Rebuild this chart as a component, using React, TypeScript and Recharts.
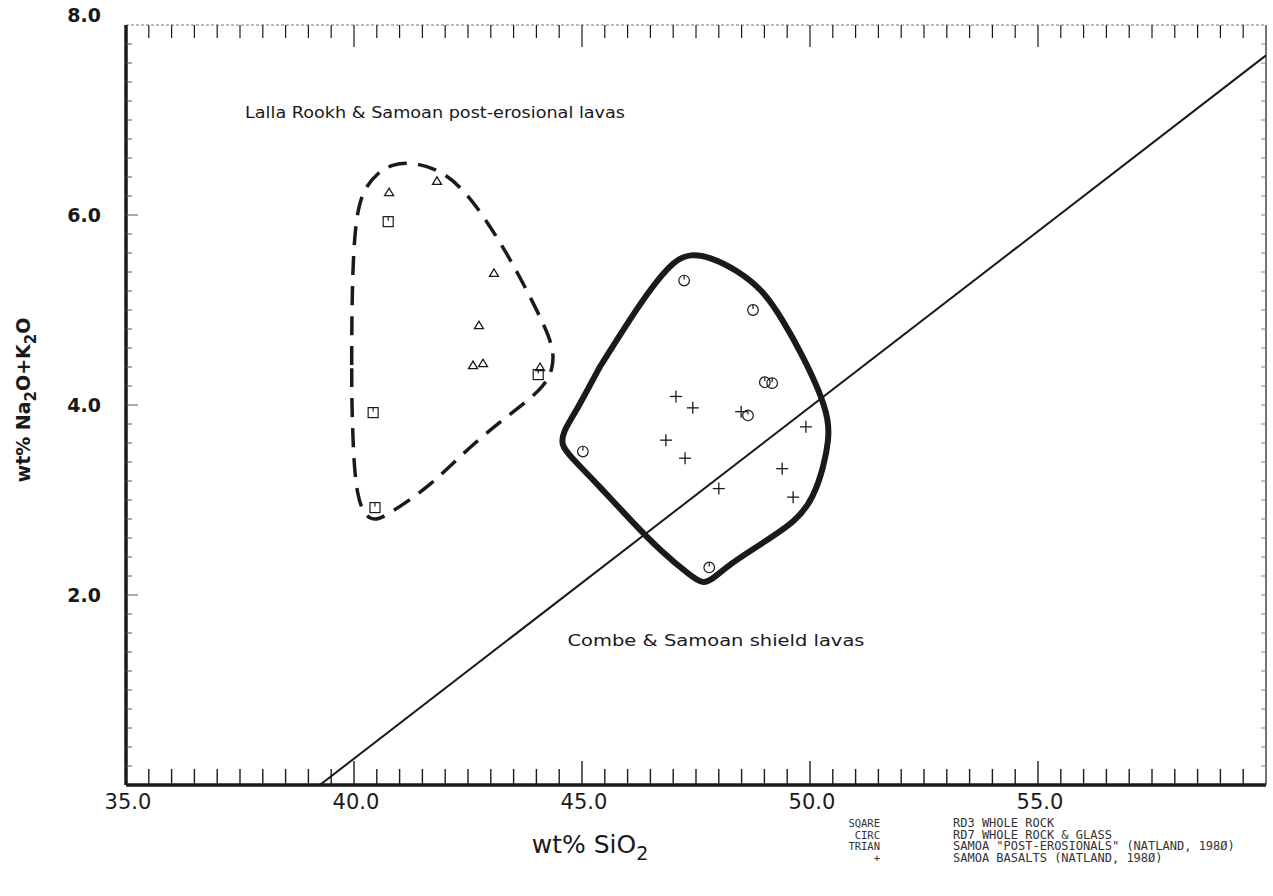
import React from 'react';
import { ComposedChart, Scatter, XAxis, YAxis } from 'recharts';

// RD3 whole rock (squares)
const rd3WholeRock = [
  { x: 40.75, y: 5.93 },
  { x: 40.42, y: 3.92 },
  { x: 40.46, y: 2.92 },
  { x: 44.04, y: 4.32 },
];
// RD7 whole rock & glass (circles)
const rd7WholeRockGlass = [
  { x: 47.24, y: 5.31 },
  { x: 48.75, y: 5.0 },
  { x: 49.01, y: 4.24 },
  { x: 49.17, y: 4.23 },
  { x: 48.64, y: 3.89 },
  { x: 45.02, y: 3.51 },
  { x: 47.79, y: 2.29 },
];
// Samoa "post-erosionals" (triangles)
const samoaPostErosional = [
  { x: 40.77, y: 6.24 },
  { x: 41.82, y: 6.36 },
  { x: 43.07, y: 5.39 },
  { x: 42.74, y: 4.84 },
  { x: 42.61, y: 4.42 },
  { x: 42.83, y: 4.44 },
  { x: 44.08, y: 4.4 },
];
// Samoa basalts (+)
const samoaBasalts = [
  { x: 47.06, y: 4.09 },
  { x: 47.43, y: 3.97 },
  { x: 48.49, y: 3.93 },
  { x: 46.84, y: 3.63 },
  { x: 47.26, y: 3.44 },
  { x: 48.0, y: 3.12 },
  { x: 49.91, y: 3.77 },
  { x: 49.39, y: 3.33 },
  { x: 49.63, y: 3.03 },
];
// envelope: Lalla Rookh & Samoan post-erosional lavas (dashed)
const postErosionalField = [
  { x: 39.95, y: 4.42 }, { x: 39.95, y: 4.79 }, { x: 39.97, y: 5.42 },
  { x: 40.03, y: 5.92 }, { x: 40.18, y: 6.26 }, { x: 40.53, y: 6.45 }, { x: 40.83, y: 6.53 },
  { x: 41.23, y: 6.56 }, { x: 41.89, y: 6.48 }, { x: 42.48, y: 6.24 }, { x: 43.14, y: 5.77 },
  { x: 43.64, y: 5.35 }, { x: 44.23, y: 4.79 }, { x: 44.38, y: 4.56 }, { x: 44.36, y: 4.39 },
  { x: 44.19, y: 4.2 }, { x: 43.64, y: 3.98 }, { x: 42.61, y: 3.6 }, { x: 41.67, y: 3.14 },
  { x: 40.72, y: 2.84 }, { x: 40.46, y: 2.78 }, { x: 40.22, y: 2.84 }, { x: 40.07, y: 3.05 },
  { x: 39.99, y: 3.42 }, { x: 39.95, y: 4.05 }, { x: 39.95, y: 4.42 },
];
// envelope: Combe & Samoan shield lavas (solid)
const shieldField = [
  { x: 45.39, y: 4.4 }, { x: 45.9, y: 4.79 }, { x: 46.49, y: 5.22 }, { x: 47.04, y: 5.53 },
  { x: 47.37, y: 5.59 }, { x: 47.81, y: 5.56 }, { x: 48.4, y: 5.42 }, { x: 48.97, y: 5.21 },
  { x: 49.41, y: 4.89 }, { x: 49.85, y: 4.51 }, { x: 50.22, y: 4.13 }, { x: 50.41, y: 3.84 },
  { x: 50.41, y: 3.63 }, { x: 50.3, y: 3.35 }, { x: 50.08, y: 3.03 }, { x: 49.71, y: 2.78 },
  { x: 48.97, y: 2.55 }, { x: 48.25, y: 2.33 }, { x: 47.85, y: 2.16 }, { x: 47.65, y: 2.12 },
  { x: 47.41, y: 2.19 }, { x: 46.71, y: 2.47 }, { x: 46.12, y: 2.76 }, { x: 45.39, y: 3.14 },
  { x: 44.74, y: 3.46 }, { x: 44.54, y: 3.58 }, { x: 44.59, y: 3.72 }, { x: 44.8, y: 3.88 },
  { x: 45.1, y: 4.14 }, { x: 45.39, y: 4.4 },
];
// alkalic / tholeiitic divide
const divideLine = [
  { x: 39.25, y: 0 },
  { x: 60, y: 7.68 },
];

const xLabelTicks = [35, 40, 45, 50, 55];
const yLabelTicks = [2, 4, 6, 8];
const xTicks = Array.from({ length: 51 }, (_, i) => 35 + i * 0.5);
const yTicks = Array.from({ length: 41 }, (_, i) => Math.round(i * 2) / 10);

const legendKeys = ['SQARE', 'CIRC', 'TRIAN', '+'];
const legendLabels = [
  'RD3 WHOLE ROCK',
  'RD7 WHOLE ROCK & GLASS',
  'SAMOA "POST-EROSIONALS" (NATLAND, 198\u00D8)',
  'SAMOA BASALTS (NATLAND, 198\u00D8)',
];

const INK = '#1a1a1a';
const isMajorX = (v: number) => Math.abs(v / 5 - Math.round(v / 5)) < 1e-6;
const isMajorY = (v: number) => Math.abs(v / 2 - Math.round(v / 2)) < 1e-6;

const BottomTick = (p: any) => {
  const v = p.payload.value;
  const major = isMajorX(v);
  return (
    <g>
      {v > 35 && v < 60 && (
        <line x1={p.x} x2={p.x} y1={p.y} y2={p.y - (major ? 24 : 16)} stroke={INK} strokeWidth={1.4} />
      )}
      {xLabelTicks.includes(v) && (
        <text x={p.x + 2} y={p.y + 24} textAnchor="middle" fontFamily="DejaVu Sans" fontSize={21} fill={INK}>
          {v.toFixed(1)}
        </text>
      )}
    </g>
  );
};
const TopTick = (p: any) => {
  const v = p.payload.value;
  const major = isMajorX(v);
  if (v <= 35 || v >= 60) return <g />;
  return <line x1={p.x} x2={p.x} y1={p.y} y2={p.y + (major ? 22 : 13)} stroke={INK} strokeWidth={1.2} />;
};
const LeftTick = (p: any) => {
  const v = p.payload.value;
  const major = isMajorY(v);
  return (
    <g>
      {v > 0 && v < 8 && (
        <line x1={p.x} x2={p.x + (major ? 12 : 6)} y1={p.y} y2={p.y} stroke="#555" strokeWidth={1} />
      )}
      {yLabelTicks.includes(v) && (
        <text x={p.x - 25} y={p.y + (v === 8 ? -3 : 7)} textAnchor="end" fontFamily="DejaVu Sans" fontWeight="bold" fontSize={19} fill={INK}>
          {v.toFixed(1)}
        </text>
      )}
    </g>
  );
};
const RightTick = (p: any) => {
  const v = p.payload.value;
  if (v <= 0 || v >= 8) return <g />;
  return <line x1={p.x} x2={p.x - 5} y1={p.y} y2={p.y} stroke="#888" strokeWidth={1} />;
};

const Square = (p: any) => (
  <g stroke={INK} strokeWidth={1.2} fill="none">
    <rect x={p.cx - 5} y={p.cy - 5} width={10} height={10} />
    <line x1={p.cx} x2={p.cx} y1={p.cy - 5} y2={p.cy - 1} />
  </g>
);
const Circle = (p: any) => (
  <g stroke={INK} strokeWidth={1.2} fill="none">
    <circle cx={p.cx} cy={p.cy} r={5.3} />
    <line x1={p.cx} x2={p.cx} y1={p.cy - 5} y2={p.cy - 1} />
  </g>
);
const Triangle = (p: any) => (
  <g stroke={INK} strokeWidth={1.3} fill="none">
    <polygon points={`${p.cx - 4.5},${p.cy + 3.5} ${p.cx},${p.cy - 4} ${p.cx + 4.5},${p.cy + 3.5}`} />
  </g>
);
const Plus = (p: any) => (
  <g stroke={INK} strokeWidth={1.3}>
    <line x1={p.cx - 6} x2={p.cx + 6} y1={p.cy} y2={p.cy} />
    <line x1={p.cx} x2={p.cx} y1={p.cy - 6} y2={p.cy + 6} />
  </g>
);
const NoShape = () => <g />;

export default function App() {
  return (
    <div style={{ position: 'absolute', left: 0, top: 0, width: 1273, height: 896, background: '#fff' }}>
      <ComposedChart width={1273} height={896} margin={{ top: 0, right: 0, bottom: 51, left: 66 }}>
        <XAxis
          xAxisId="b" type="number" dataKey="x" domain={[35, 60]} ticks={xTicks} interval={0}
          height={60} tickSize={0} tickMargin={0} tickLine={false} tick={<BottomTick />}
          axisLine={{ stroke: INK, strokeWidth: 3.5 }} allowDataOverflow
        />
        <XAxis
          xAxisId="t" orientation="top" type="number" dataKey="x" domain={[35, 60]} ticks={xTicks} interval={0}
          height={25} tickSize={0} tickMargin={0} tickLine={false} tick={<TopTick />}
          axisLine={{ stroke: '#777', strokeWidth: 1, strokeDasharray: '3 2' }} allowDataOverflow
        />
        <YAxis
          yAxisId="l" type="number" dataKey="y" domain={[0, 8]} ticks={yTicks} interval={0}
          width={60} tickSize={0} tickMargin={0} tickLine={false} tick={<LeftTick />}
          axisLine={{ stroke: INK, strokeWidth: 3.5 }} allowDataOverflow
        />
        <YAxis
          yAxisId="r" orientation="right" type="number" dataKey="y" domain={[0, 8]} ticks={yTicks} interval={0}
          width={7} tickSize={0} tickMargin={0} tickLine={false} tick={<RightTick />}
          axisLine={{ stroke: '#444', strokeWidth: 1.5 }} allowDataOverflow
        />
        <Scatter
          xAxisId="b" yAxisId="l" data={divideLine} isAnimationActive={false}
          line={{ stroke: INK, strokeWidth: 2 }} shape={<NoShape />}
        />
        <Scatter
          xAxisId="b" yAxisId="l" data={postErosionalField} isAnimationActive={false} lineJointType="basis"
          line={{ stroke: INK, strokeWidth: 3.5, strokeDasharray: '19 11', fill: 'none' }} shape={<NoShape />}
        />
        <Scatter
          xAxisId="b" yAxisId="l" data={shieldField} isAnimationActive={false} lineJointType="basis"
          line={{ stroke: INK, strokeWidth: 6, fill: 'none', strokeLinejoin: 'round', strokeLinecap: 'round' }} shape={<NoShape />}
        />
        <Scatter xAxisId="b" yAxisId="l" data={rd3WholeRock} isAnimationActive={false} shape={<Square />} />
        <Scatter xAxisId="b" yAxisId="l" data={rd7WholeRockGlass} isAnimationActive={false} shape={<Circle />} />
        <Scatter xAxisId="b" yAxisId="l" data={samoaPostErosional} isAnimationActive={false} shape={<Triangle />} />
        <Scatter xAxisId="b" yAxisId="l" data={samoaBasalts} isAnimationActive={false} shape={<Plus />} />
      </ComposedChart>
      <svg width={1273} height={896} style={{ position: 'absolute', left: 0, top: 0, pointerEvents: 'none' }}>
        <text x={435} y={118} textAnchor="middle" fontFamily="DejaVu Sans" fontSize={15} fill={INK} textLength={380} lengthAdjust="spacingAndGlyphs">
          Lalla Rookh &amp; Samoan post-erosional lavas
        </text>
        <text x={716} y={646} textAnchor="middle" fontFamily="DejaVu Sans" fontSize={15} fill={INK} textLength={297} lengthAdjust="spacingAndGlyphs">
          Combe &amp; Samoan shield lavas
        </text>
        <text x={590} y={853} textAnchor="middle" fontFamily="DejaVu Sans" fontSize={25} fill={INK}>
          wt% SiO<tspan fontSize={19} dy={7}>2</tspan>
        </text>
        <text transform="translate(30,400) rotate(-90)" textAnchor="middle" fontFamily="DejaVu Sans" fontWeight="bold" fontSize={19} fill={INK}>
          wt% Na<tspan fontSize={15} dy={6}>2</tspan><tspan dy={-6}>O+K</tspan><tspan fontSize={15} dy={6}>2</tspan><tspan dy={-6}>O</tspan>
        </text>
        {legendKeys.map((k, i) => (
          <text key={k} x={880} y={827 + i * 11.5} textAnchor="end" fontFamily="DejaVu Sans Mono" fontSize={10.5} fill="#333">
            {k}
          </text>
        ))}
        {legendLabels.map((l, i) => (
          <text key={l} x={953} y={827 + i * 11.5} fontFamily="DejaVu Sans Mono" fontSize={12} fill="#333">
            {l}
          </text>
        ))}
      </svg>
    </div>
  );
}
